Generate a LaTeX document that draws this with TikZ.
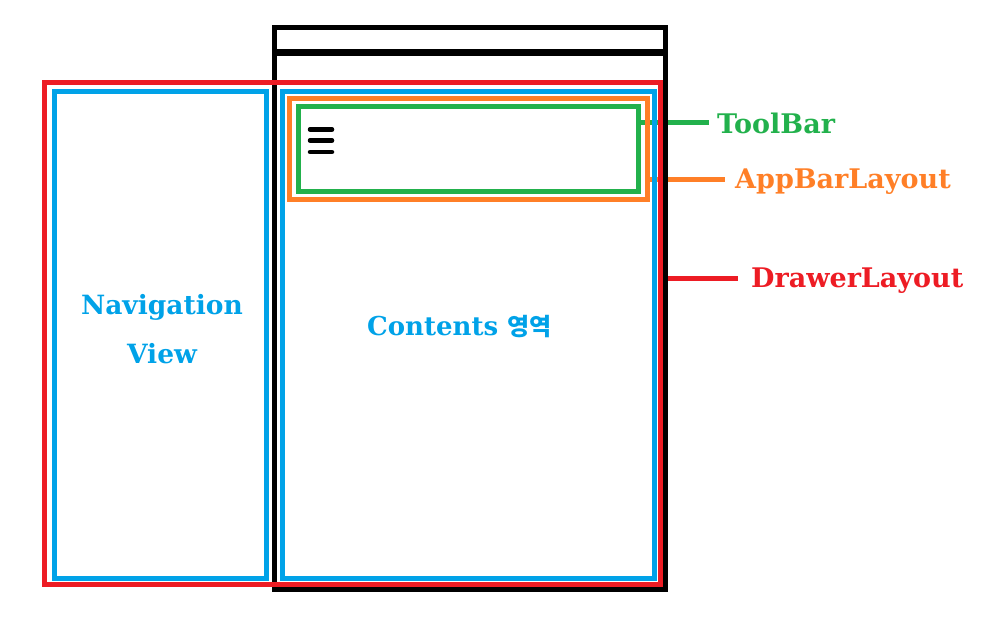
\documentclass[tikz,border=0pt]{standalone}
\usepackage{fontspec}
\setmainfont{DejaVu Serif}
\newfontfamily\krfont{Noto Sans CJK KR}
\usetikzlibrary{backgrounds}
\definecolor{pred}{HTML}{ED1C24}
\definecolor{pblue}{HTML}{00A2E8}
\definecolor{porange}{HTML}{FF7F27}
\definecolor{pgreen}{HTML}{22B14C}
\tikzset{
  frame/.style={draw=#1, line width=5pt, inner sep=0pt, outer sep=0pt, rectangle},
  conn/.style={draw=#1, line width=5pt},
  lbl/.style={text=#1, font=\fontsize{27}{30}\selectfont\bfseries, inner sep=0pt, anchor=base west},
  burger/.style={line width=4.5pt, line cap=round}
}
\begin{document}
\begin{tikzpicture}[x=1pt,y=-1pt]
\useasboundingbox (0,0) rectangle (998,642);
% phone
\node[frame=black, minimum width=390.5pt, minimum height=561.5pt] (phone) at (469.75,308.25) {};
\coordinate (divy) at (0,52.5);
\draw[line width=6.5pt] (phone.west |- divy) -- (phone.east |- divy);
% drawer layout
\node[frame=pred, minimum width=616pt, minimum height=502pt] (drawer) at (352.5,333.5) {};
% navigation view
\node[frame=pblue, minimum width=212pt, minimum height=487pt] (nav) at (160.5,335) {};
% contents
\node[frame=pblue, minimum width=372pt, minimum height=487pt] (content) at (468.5,335) {};
% app bar layout
\node[frame=porange, minimum width=358pt, minimum height=101pt] (appbar) at (468.5,149) {};
% toolbar
\node[frame=pgreen, minimum width=340pt, minimum height=85pt] (toolbar) at (468.5,149) {};
% hamburger icon
\draw[burger] (310,129.5) -- (332,129.5);
\draw[burger] (310,140.5) -- (332,140.5);
\draw[burger] (310,152) -- (332,152);
% texts inside
\node[text=pblue, font=\fontsize{26.5}{49}\selectfont\bfseries, align=center, inner sep=0pt] (navtext) at (162,329.5) {Navigation\\View};
\node[lbl=pblue, font=\fontsize{26}{30}\selectfont\bfseries] (contenttext) at (367,335) {Contents {\krfont\fontsize{24}{30}\selectfont\bfseries 영역}};
% labels
\node[lbl=pgreen] (tblabel) at (717,133) {ToolBar};
\node[lbl=porange] (ablabel) at (735,188) {AppBarLayout};
\node[lbl=pred] (dllabel) at (751,287) {DrawerLayout};
\coordinate (tbend) at (709,122);
\coordinate (abend) at (725,179);
\coordinate (dlend) at (738,278);
\begin{scope}[on background layer]
\draw[conn=pgreen] (tbend -| toolbar.east) -- (tbend);
\draw[conn=porange] (abend -| appbar.east) -- (abend);
\draw[conn=pred] (dlend -| drawer.east) -- (dlend);
\end{scope}
\end{tikzpicture}
\end{document}
